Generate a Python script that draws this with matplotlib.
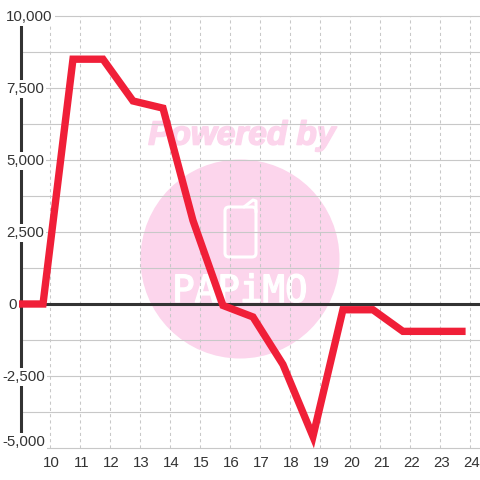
import matplotlib.pyplot as plt
from matplotlib.patches import Circle, FancyBboxPatch
from matplotlib.transforms import ScaledTranslation
import matplotlib.patheffects as pe

hours = [8.9, 9.75, 10.75, 11.75, 12.75, 13.75, 14.75, 15.75, 16.75, 17.75, 18.75, 19.75, 20.75, 21.75, 22.75, 23.84]
values = [0, 0, 8500, 8500, 7050, 6800, 2900, -50, -450, -2100, -4600, -200, -200, -950, -950, -950]
x_ticks = list(range(10, 25))
y_ticks = [-5000, -2500, 0, 2500, 5000, 7500, 10000]
y_grid = [-5000, -3750, -2500, -1250, 0, 1250, 2500, 3750, 5000, 6250, 7500, 8750, 10000]

plt.rcParams['font.family'] = ['Liberation Sans', 'DejaVu Sans']

fig = plt.figure(figsize=(4.8, 4.8), dpi=100)

# watermark sits behind the chart, in pixel coords
bg = fig.add_axes([0, 0, 1, 1], zorder=0)
bg.set_xlim(0, 480)
bg.set_ylim(480, 0)
bg.axis('off')
pink = '#fcd5ec'
bg.add_patch(Circle((240, 259), 99.5, color=pink, lw=0))
bg.text(242, 136, 'Powered by', color=pink, fontsize=24, fontweight='bold', style='italic',
        ha='center', va='center', path_effects=[pe.withStroke(linewidth=1.2, foreground=pink)])
bg.add_patch(FancyBboxPatch((225, 207), 31, 50, boxstyle='round,pad=0,rounding_size=4',
                            fc='none', ec='white', lw=2.2))
bg.plot([244, 253, 256, 256], [207, 200, 201, 212], color='white', lw=2.2, solid_capstyle='round')
bg.text(240, 292, 'PAPiMO', color='white', fontsize=27, family=['DejaVu Sans Mono'],
        ha='center', va='center', path_effects=[pe.withStroke(linewidth=1.0, foreground='white')])

ax = fig.add_axes([20.5 / 480, (480 - 448) / 480, 459.5 / 480, 432 / 480], zorder=1)
ax.patch.set_alpha(0)
ax.set_xlim(9, 24.32)
ax.set_ylim(-5000, 10000)

for s in ['top', 'right', 'bottom']:
    ax.spines[s].set_visible(False)
ax.spines['left'].set_linewidth(2.2)
ax.spines['left'].set_color('#333333')

for v in y_grid:
    ax.axhline(v, color='#c8c8c8', lw=0.8, zorder=1, clip_on=False)
for h in x_ticks:
    ax.axvline(h, color='#c8c8c8', lw=0.75, ls=(0, (3, 3)), zorder=1)
ax.axhline(0, color='#333333', lw=2.2, zorder=2)

ax.plot(hours, values, color='#f01f38', lw=5.3, solid_joinstyle='miter', solid_capstyle='butt',
        zorder=3, clip_on=False)

ax.set_xticks(x_ticks)
ax.set_yticks(y_ticks)
ax.set_yticklabels([])
ax.tick_params(length=0, labelsize=10.8, labelcolor='#333333')
ax.tick_params(axis='x', pad=6)
shift = ScaledTranslation(1 / 100, 0, fig.dpi_scale_trans)
for lab in ax.get_xticklabels():
    lab.set_transform(lab.get_transform() + shift)

# y labels sit over the spine with a white box, left aligned
for v in y_ticks:
    px = 2 if v < 0 else (8 if v == 0 else 6)
    dy = 6 if v == -5000 else -1
    ax.annotate(f'{v:,}', xy=(0, v), xycoords=ax.get_yaxis_transform(),
                xytext=(px - 20.5, dy), textcoords='offset pixels',
                ha='left', va='center', fontsize=10.8, color='#333333', zorder=6,
                annotation_clip=False,
                bbox=dict(fc='white', ec='none', pad=1.5))

fig.savefig('out.png', dpi=100)
